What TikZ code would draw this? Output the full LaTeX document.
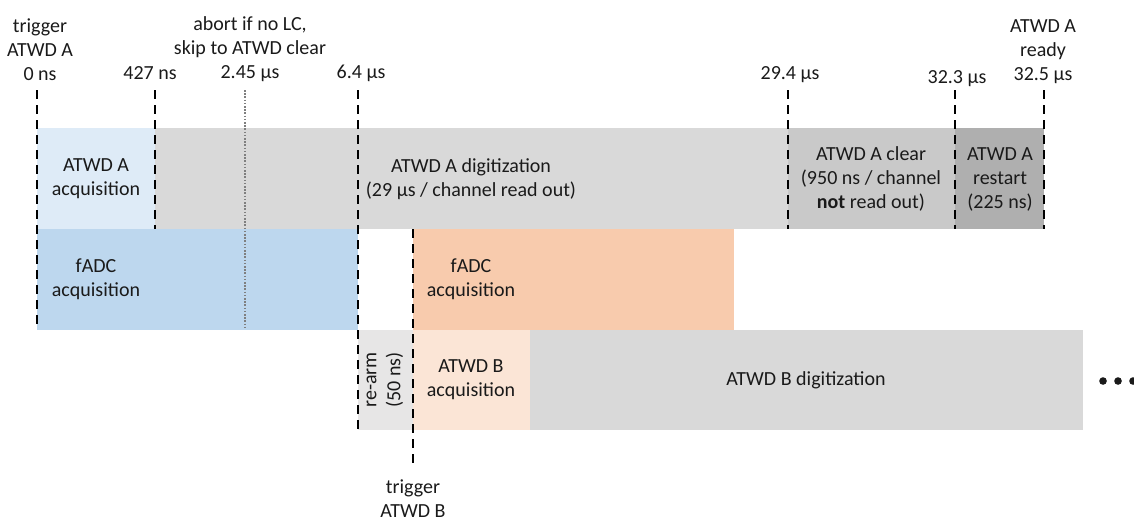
\documentclass[tikz,border=0pt]{standalone}
\usepackage{fontspec}
\setmainfont{Carlito}
\definecolor{acqA}{HTML}{DEEBF7}
\definecolor{fadcA}{HTML}{BDD7EE}
\definecolor{digi}{HTML}{D9D9D9}
\definecolor{clr}{HTML}{C9C9C9}
\definecolor{rst}{HTML}{AFAFAF}
\definecolor{fadcB}{HTML}{F8CBAD}
\definecolor{acqB}{HTML}{FBE5D6}
\definecolor{rearm}{HTML}{E7E6E6}
\definecolor{dotc}{HTML}{7F7F7F}
\definecolor{txt}{HTML}{1A1A1A}
\begin{document}
\begin{tikzpicture}[x=0.75pt,y=-0.75pt,
  lbl/.style={font=\fontsize{15}{18}\selectfont, align=center, inner sep=0pt, text=txt},
  tick/.style={line width=2pt, dash pattern=on 6.75pt off 4.5pt},
  abortline/.style={dotc, line width=1.5pt, dash pattern=on 1.2pt off 1.2pt}]
\useasboundingbox (0,0) rectangle (1134,522);
% row 1
\fill[acqA] (37,128) rectangle (155,229);
\fill[digi] (155,128) rectangle (788,229);
\fill[clr] (788,128) rectangle (955,229);
\fill[rst] (955,128) rectangle (1044,229);
% row 2
\fill[fadcA] (37,229) rectangle (358,330);
\fill[fadcB] (413,229) rectangle (734,330);
% row 3
\fill[rearm] (358,330) rectangle (413,430);
\fill[acqB] (413,330) rectangle (530,430);
\fill[digi] (530,330) rectangle (1083,430);
% coordinates for ticks
\coordinate (t0a) at (37,90);    \coordinate (t0b) at (37,330);
\coordinate (t1a) at (155,90);   \coordinate (t1b) at (155,229);
\coordinate (tda) at (245,90);   \coordinate (tdb) at (245,328);
\coordinate (t2a) at (358,90);   \coordinate (t2b) at (358,430);
\coordinate (tBa) at (413,229);  \coordinate (tBb) at (413,468);
\coordinate (t3a) at (788,90);   \coordinate (t3b) at (788,229);
\coordinate (t4a) at (955,90);   \coordinate (t4b) at (955,229);
\coordinate (t5a) at (1044,90);  \coordinate (t5b) at (1044,229);
\draw[tick] (t0a) -- (t0b);
\draw[tick] (t1a) -- (t1b);
\draw[abortline] (tda) -- (tdb);
\draw[tick] (t2a) -- (t2b);
\draw[tick] (tBa) -- (tBb);
\draw[tick] (t3a) -- (t3b);
\draw[tick] (t4a) -- (t4b);
\draw[tick] (t5a) -- (t5b);
% top labels
\node[lbl] (l0) at (40,50) {trigger\\ATWD A\\0 ns};
\node[lbl] (l1) at (150,73) {427 ns};
\node[lbl] (labort) at (250,49) {abort if no LC,\\skip to ATWD clear\\2.45 µs};
\node[lbl] (l2) at (361,73) {6.4 µs};
\node[lbl] (l3) at (790,75) {29.4 µs};
\node[lbl] (l4) at (957,79) {32.3 µs};
\node[lbl] (l5) at (1043,52) {ATWD A\\ready\\32.5 µs};
% box texts
\node[lbl] (acqAt) at (96,179) {ATWD A\\acquisition};
\node[lbl] (digAt) at (471,179) {ATWD A digitization\\(29 µs / channel read out)};
\node[lbl] (clrt) at (871,179) {ATWD A clear\\(950 ns / channel\\\textbf{not} read out)};
\node[lbl] (rstt) at (1000,179) {ATWD A\\restart\\(225 ns)};
\node[lbl] (fadcAt) at (96,279) {fADC\\acquisition};
\node[lbl] (fadcBt) at (471,279) {fADC\\acquisition};
\node[lbl, rotate=90] (rearmt) at (385,380) {re-arm\\(50 ns)};
\node[lbl] (acqBt) at (471,380) {ATWD B\\acquisition};
\node[lbl] (digBt) at (806,380) {ATWD B digitization};
\node[lbl] (trigB) at (413,499) {trigger\\ATWD B};
% continuation dots
\fill[txt] (1103,381) circle (3.8);
\fill[txt] (1118,381) circle (3.8);
\fill[txt] (1133,381) circle (3.8);
\end{tikzpicture}
\end{document}
